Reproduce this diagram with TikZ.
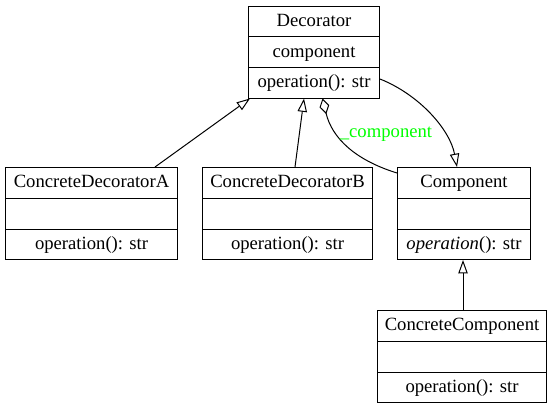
\documentclass[tikz,border=0pt]{standalone}
\usepackage{fontspec}
\setmainfont{Liberation Serif}
\usetikzlibrary{arrows.meta,calc}
\definecolor{lblgreen}{RGB}{0,255,0}
\tikzset{
  classbox/.style={draw, line width=0.75pt, inner sep=0pt, minimum height=92*0.75pt, anchor=north west},
  rowline/.style={line width=0.75pt},
  lbl/.style={inner sep=0pt, anchor=base, font=\fontsize{14}{16}\selectfont},
  edgelbl/.style={lbl, text=lblgreen},
  gen/.style={line width=0.75pt, -{Triangle[open, length=10pt, width=7pt]}},
  agg/.style={line width=0.75pt, {Diamond[open, length=12pt, width=7.5pt]}-},
}
\newcommand\umlclass[7]{%
  \node[classbox, minimum width=#4*0.75pt] (#1) at (#2,#3) {};
  \draw[rowline] ($(#1.north west)+(0,31)$) -- ($(#1.north east)+(0,31)$);
  \draw[rowline] ($(#1.north west)+(0,62)$) -- ($(#1.north east)+(0,62)$);
  \node[lbl] (#1-title) at ($(#1.north)+(0,20.5)$) {#5};
  \node[lbl] (#1-attr) at ($(#1.north)+(0,51.5)$) {#6};
  \node[lbl] (#1-ops) at ($(#1.north)+(0,82)$) {#7};
}
\begin{document}
\begin{tikzpicture}[x=0.75pt, y=-0.75pt]
\useasboundingbox (0,0) rectangle (555,408);
\umlclass{dec}{248}{5.5}{131}{Decorator}{component}{operation(): str}
\umlclass{cda}{5}{167}{172}{ConcreteDecoratorA}{}{operation(): str}
\umlclass{cdb}{202}{167}{170}{ConcreteDecoratorB}{}{operation(): str}
\umlclass{comp}{397}{167}{133}{Component}{}{\textit{operation}(): str}
\umlclass{cc}{377}{310}{169}{ConcreteComponent}{}{operation(): str}
% generalisations
\draw[gen] ($(cda.north west)+(150,0)$) -- ($(dec.south west)+(2,0)$);
\draw[gen] ($(cdb.north west)+(93,0)$) -- ($(dec.south west)+(56,0)$);
\draw[gen] ($(dec.south east)+(0,-19.5)$) .. controls (420,95) and (450,130) .. ($(comp.north west)+(60,0)$);
\draw[gen] ($(cc.north west)+(86,0)$) -- ($(comp.south west)+(66,0)$);
% aggregation
\draw[agg] ($(dec.south west)+(74.5,0)$) .. controls (332,138) and (355,160) .. ($(comp.north west)+(0,6)$);
\node[edgelbl] (agglbl) at (386,137) {\_component};
\end{tikzpicture}
\end{document}
